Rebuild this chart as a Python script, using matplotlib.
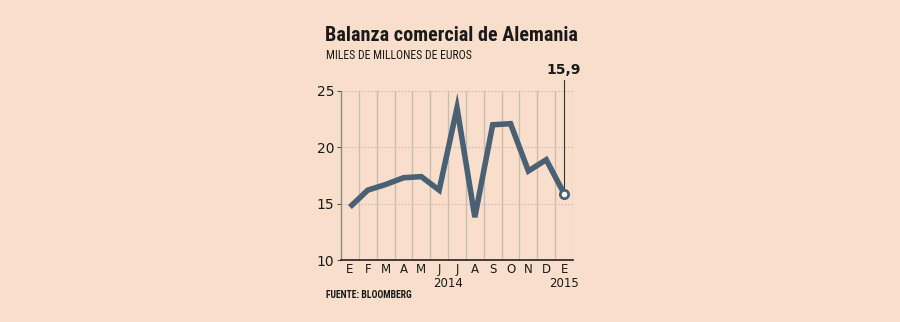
import matplotlib
matplotlib.use("Agg")
import matplotlib.pyplot as plt
from matplotlib import font_manager

months = ["E", "F", "M", "A", "M", "J", "J", "A", "S", "O", "N", "D", "E"]
values = [14.7, 16.2, 16.7, 17.3, 17.4, 16.2, 23.5, 13.8, 22.0, 22.1, 17.9, 18.9, 15.9]
yticks = [10, 15, 20, 25]
years = ["2014", "2015"]
title = "Balanza comercial de Alemania"
subtitle = "MILES DE MILLONES DE EUROS"
source = "FUENTE: BLOOMBERG"
last_label = "15,9"

bg = "#f9dfcb"
line_c = "#4a6175"
grid_c = "#c9bcb2"
text_c = "#1a1a1a"
fam = ["DejaVu Sans"]
names = {f.name for f in font_manager.fontManager.ttflist}
narrow = [n for n in ["Roboto Condensed", "Liberation Sans Narrow", "DejaVu Sans Condensed"] if n in names]
nfam = narrow[:1] + ["DejaVu Sans"]

fig = plt.figure(figsize=(9, 3.22), dpi=100, facecolor=bg)
ax = fig.add_axes([341/900, 1-260/322, 232/900, 169/322])
ax.set_facecolor(bg)
n = len(values)
x = list(range(n))
ax.set_xlim(-0.5, n-0.5)
ax.set_ylim(10, 25)

for gx in [i + 0.5 for i in range(n)]:
    ax.axvline(gx, color=grid_c, lw=1.0, zorder=1)
for gy in yticks[1:]:
    ax.axhline(gy, color=grid_c, lw=0.8, ls=(0, (1.5, 1.5)), zorder=1)

ax.plot(x, values, color=line_c, lw=4, solid_capstyle="butt", solid_joinstyle="miter", zorder=3)
ax.plot([x[-1]], [values[-1]], marker="o", ms=6, mfc="white", mec=line_c, mew=2, zorder=4)

ax.plot([x[-1], x[-1]], [values[-1] + 0.45, 26.0], color="#333333", lw=0.8, clip_on=False, zorder=2)
ax.text(x[-1], 26.2, last_label, ha="center", va="bottom", fontsize=10, fontweight="bold",
        color=text_c, family=fam)

for s in ["top", "right"]:
    ax.spines[s].set_visible(False)
ax.spines["left"].set_color("#8a8a8a")
ax.spines["left"].set_linewidth(1.0)
ax.spines["bottom"].set_color("#222222")
ax.spines["bottom"].set_linewidth(1.2)

ax.set_yticks(yticks)
ax.set_yticklabels([str(v) for v in yticks], family=fam, fontsize=10)
ax.tick_params(axis="y", length=3, width=0.8, color="#555555", pad=2, labelcolor=text_c)
ax.set_xticks(x)
ax.set_xticklabels(months, family=fam, fontsize=8.5)
ax.tick_params(axis="x", length=0, pad=2.5, labelcolor=text_c)

ax.text(5.5, -0.10, years[0], transform=ax.get_xaxis_transform(), ha="center", va="top",
        fontsize=8.5, color=text_c, family=fam)
ax.text(x[-1], -0.10, years[1], transform=ax.get_xaxis_transform(), ha="center", va="top",
        fontsize=8.5, color=text_c, family=fam)

fig.text(325/900, 1-41/322, title, ha="left", va="baseline", fontsize=14.5, fontweight="bold",
         color=text_c, family=nfam)
fig.text(326/900, 1-59/322, subtitle, ha="left", va="baseline", fontsize=8.5,
         color=text_c, family=nfam)
fig.text(326/900, 1-298/322, source, ha="left", va="baseline", fontsize=7, fontweight="bold",
         color=text_c, family=nfam)

fig.savefig("out.png", dpi=100, facecolor=bg)
